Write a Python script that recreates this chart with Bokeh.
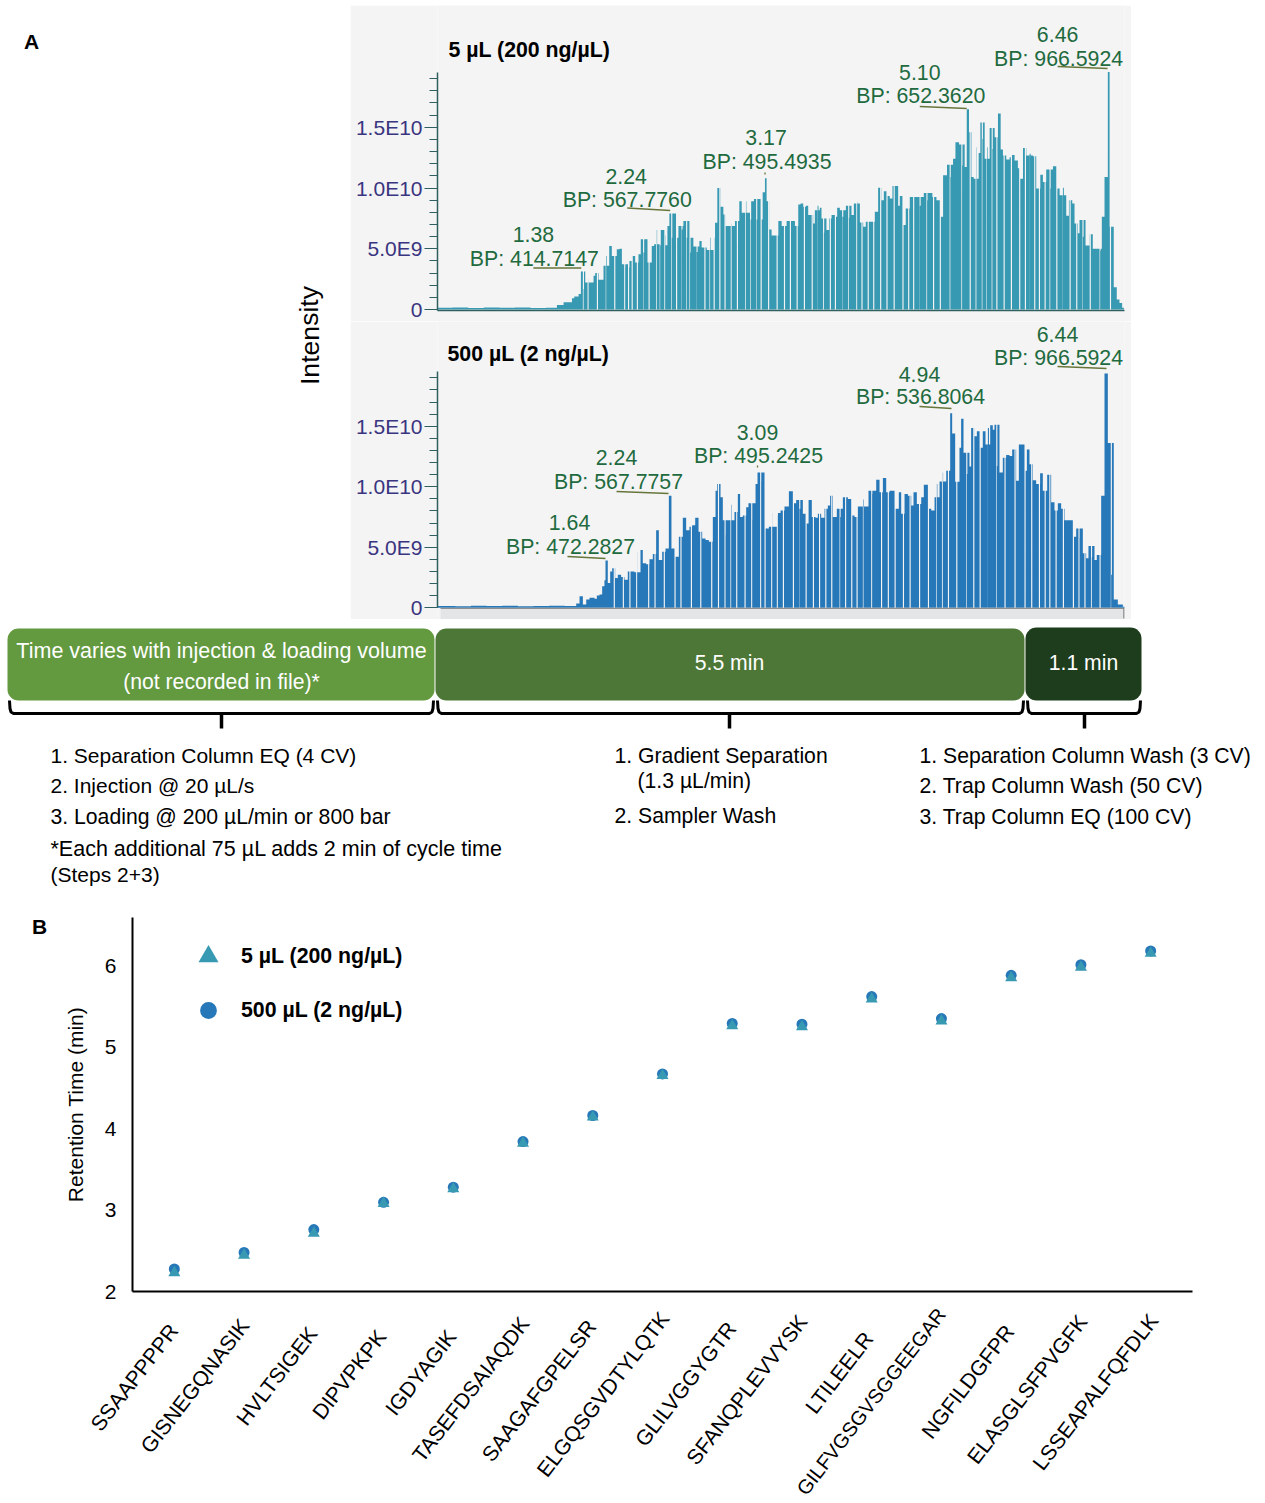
from bokeh.plotting import figure
from bokeh.layouts import row, column
from bokeh.models import (Range1d, FactorRange, FixedTicker, LinearAxis, Legend, LegendItem, Spacer, ColumnDataSource)
from bokeh.core.properties import value
from bokeh.embed import file_html
from bokeh.resources import INLINE

# ---------------- chromatogram data (retention time in min, intensity in 1E9) ----------------
rt_5ul = [0.00,0.15,0.30,0.45,0.60,0.75,0.90,1.05,1.155,1.219,1.267,1.30,1.322,1.364,1.386,1.412,1.428,1.46,1.508,1.524,1.556,1.604,1.63,1.659,1.684,1.732,1.758,1.781,1.813,1.854,1.886,1.909,1.941,1.963,1.989,2.028,2.069,2.092,2.117,2.15,2.198,2.22,2.239,2.262,2.326,2.358,2.374,2.406,2.438,2.47,2.502,2.528,2.55,2.599,2.631,2.679,2.701,2.733,2.759,2.782,2.839,2.871,2.913,2.936,2.977,3.022,3.054,3.08,3.138,3.16,3.176,3.202,3.224,3.289,3.321,3.369,3.417,3.449,3.481,
          3.503,3.529,3.555,3.577,3.625,3.641,3.667,3.689,3.705,3.728,3.753,3.779,3.802,3.834,3.856,3.882,3.907,3.94,3.969,3.994,4.017,4.049,4.075,4.107,4.132,4.161,4.18,4.219,4.251,4.283,4.306,4.331,4.363,4.389,4.411,4.444,4.46,4.485,4.517,4.556,4.627,4.652,4.691,4.723,4.774,4.813,4.845,4.877,4.915,4.947,4.973,4.996,5.031,5.06,5.085,5.105,5.127,5.15,5.172,5.198,5.22,5.236,5.256,5.278,5.30,5.326,5.352,5.374,5.406,5.432,5.454,5.486,5.518,5.541,5.566,5.598,5.621,5.647,5.679,5.711,5.743,5.775,5.814,5.839,5.871,5.91,5.936,5.968,6.0,6.032,6.064,6.09,6.122,6.144,6.176,6.192,6.224,6.25,6.288,6.32,6.391,6.407,6.433,6.465,6.482,6.497,6.522,6.551,6.577,6.603,6.62]
int_5ul = [0.14,0.16,0.13,0.17,0.14,0.16,0.13,0.15,0.38,0.60,0.60,0.93,1.06,1.28,3.13,1.69,2.23,2.51,2.78,3.0,2.45,3.6,4.41,5.23,4.41,4.96,5.01,3.73,3.46,4.0,4.41,3.87,4.55,5.78,4.69,3.87,5.23,5.37,6.54,5.29,6.10,6.87,7.90,5.91,6.87,6.59,7.28,5.91,4.69,5.18,4.74,5.64,5.10,4.90,5.91,7.14,10.0,8.45,7.82,6.87,7.08,7.28,8.91,7.96,8.91,7.41,9.10,7.41,9.65,10.8,8.91,6.59,6.10,7.28,6.87,7.28,7.28,6.87,8.64,
           8.72,8.45,8.53,7.77,7.08,8.17,8.53,8.37,7.49,6.32,6.54,7.49,7.77,7.63,8.37,8.17,7.63,8.53,7.55,7.77,8.72,8.86,7.17,6.81,7.22,8.53,7.22,8.04,10.03,8.99,9.73,9.35,9.13,10.16,9.13,8.53,9.35,6.95,8.31,9.26,9.26,8.53,9.59,8.99,9.26,8.99,7.63,11.04,11.91,10.90,12.40,13.76,13.57,11.85,11.72,16.49,14.58,10.90,10.76,13.35,12.89,15.40,14.03,12.40,13.35,14.93,13.22,14.17,16.13,13.16,12.67,12.34,12.53,12.72,12.26,11.63,10.76,13.30,12.67,12.81,12.62,9.95,11.09,10.49,11.53,9.95,11.80,9.95,9.40,10.03,7.71,8.99,8.72,7.08,6.27,7.36,5.99,5.26,6.19,4.99,4.85,7.63,10.90,19.54,6.81,6.81,1.83,0.82,0.54,0.14,0.0]
dips_5ul = [1.405,1.45,1.54,1.625,1.707,1.803,1.84,1.875,1.925,1.985,2.038,2.11,2.145,2.19,2.256,2.303,2.355,2.40,2.432,2.50,2.576,2.625,2.665,2.72,2.77,2.83,2.889,2.97,3.016,3.075,3.118,3.19,3.272,3.343,3.40,3.465,3.535,3.61,3.665,3.72,3.785,3.834,3.904,3.962,4.04,4.09,4.15,4.203,4.27,4.331,4.40,4.485,4.54,4.588,4.65,4.716,4.78,4.845,4.94,5.053,5.133,5.19,5.25,5.295,5.345,5.39,5.46,5.53,5.61,5.665,5.71,5.755,5.80,5.855,5.903,5.968,6.03,6.096,6.16,6.22,6.29,6.385,6.485]

rt_500ul = [0.03,0.2,0.35,0.5,0.65,0.8,0.95,1.1,1.25,1.36,1.392,1.424,1.456,1.488,1.536,1.558,1.584,1.609,1.631,1.641,1.663,1.686,1.705,1.734,1.759,1.791,1.823,1.855,1.887,1.919,1.945,1.977,1.999,2.031,2.063,2.095,2.127,2.153,2.185,2.217,2.249,2.274,2.303,2.345,2.383,2.415,2.447,2.473,2.502,2.534,2.569,2.601,2.633,2.671,2.697,2.713,2.745,2.767,2.793,2.815,2.847,2.879,2.911,2.933,2.959,2.991,3.013,3.049,3.081,3.10,3.135,3.167,3.209,3.241,3.295,3.321,3.359,3.401,3.439,3.471,
            3.503,3.535,3.561,3.59,3.621,3.656,3.679,3.711,3.743,3.775,3.797,3.823,3.861,3.893,3.919,3.967,3.999,4.031,4.063,4.117,4.136,4.165,4.2,4.239,4.271,4.303,4.335,4.367,4.415,4.456,4.479,4.511,4.543,4.575,4.597,4.629,4.671,4.696,4.735,4.767,4.799,4.821,4.847,4.878,4.911,4.949,4.968,4.997,5.038,5.054,5.077,5.109,5.134,5.15,5.182,5.205,5.231,5.262,5.288,5.311,5.333,5.358,5.374,5.397,5.422,5.454,5.486,5.518,5.544,5.582,5.608,5.64,5.662,5.685,5.71,5.742,5.774,5.812,5.838,5.88,5.918,5.95,5.982,6.014,6.046,6.094,6.126,6.158,6.19,6.222,6.254,6.276,6.308,6.334,6.356,6.398,6.43,6.462,6.494,6.519,6.558,6.606,6.63]
int_500ul = [0.15,0.13,0.17,0.14,0.16,0.13,0.15,0.16,0.14,0.35,0.95,0.27,0.68,0.82,0.74,1.01,1.09,1.77,2.26,3.90,2.04,3.0,3.27,2.45,2.72,2.53,2.32,3.0,3.0,2.92,4.63,4.77,3.68,3.60,4.01,4.44,6.40,3.95,4.63,4.90,9.26,4.90,4.22,5.86,7.44,6.40,6.68,6.81,7.44,6.27,5.72,5.59,5.45,7.49,9.67,10.22,9.13,7.22,5.99,7.22,8.50,7.90,9.40,7.49,7.63,8.31,8.64,7.22,10.22,11.17,10.41,6.54,6.68,7.82,7.63,8.04,8.37,9.62,8.64,8.91,
             8.17,7.77,6.95,8.91,7.49,7.44,7.77,7.44,8.17,8.45,9.26,7.49,8.17,7.49,9.13,8.99,7.63,7.49,8.37,8.94,8.37,9.67,9.40,10.57,9.54,10.71,9.54,9.67,8.17,9.54,7.77,9.40,9.26,8.45,9.54,8.58,9.13,10.16,8.17,8.04,9.13,10.22,10.44,11.17,11.31,16.08,14.39,10.41,13.22,15.61,12.81,11.04,11.66,14.85,14.17,14.58,13.22,14.58,13.49,14.85,15.07,14.71,15.12,11.72,11.17,12.40,12.62,12.53,13.08,10.49,13.49,13.49,11.31,13.08,11.85,10.54,10.22,11.12,9.67,10.98,8.72,8.04,8.64,8.17,7.22,7.22,5.86,6.54,5.80,4.50,4.09,5.10,4.17,3.95,4.36,9.26,19.35,13.62,2.72,0.68,0.27,0.08,0.0]
dips_500ul = [1.72,1.807,1.87,1.935,2.05,2.111,2.20,2.303,2.36,2.46,2.55,2.655,2.72,2.783,2.84,2.895,2.975,3.039,3.125,3.167,3.231,3.285,3.343,3.439,3.50,3.561,3.631,3.69,3.75,3.807,3.887,3.94,3.999,4.05,4.111,4.191,4.285,4.35,4.415,4.495,4.559,4.65,4.735,4.815,4.87,4.927,5.007,5.103,5.17,5.231,5.31,5.391,5.47,5.566,5.662,5.726,5.80,5.855,5.90,5.96,6.03,6.126,6.18,6.237,6.30,6.382,6.49]

major_ticks = [0, 5, 10, 15]
minor_ticks = list(range(0, 20))
tick_labels = {0: "0", 5: "5.0E9", 10: "1.0E10", 15: "1.5E10"}

# ---------------- panel B data ----------------
peptides = ["SSAAPPPPR","GISNEGQNASIK","HVLTSIGEK","DIPVPKPK","IGDYAGIK","TASEFDSAIAQDK","SAAGAFGPELSR","ELGQSGVDTYLQTK","GLILVGGYGTR","SFANQPLEVVYSK","LTILEELR","GILFVGSGVSGGEEGAR","NGFILDGFPR","ELASGLSFPVGFK","LSSEAPALFQFDLK"]
rt_tri = [2.23,2.445,2.715,3.08,3.26,3.82,4.14,4.65,5.26,5.25,5.59,5.32,5.85,5.98,6.15]
rt_cir = [2.276,2.48,2.76,3.095,3.28,3.84,4.16,4.67,5.29,5.28,5.62,5.35,5.88,6.01,6.18]
pep_label_end_px = [174,245,313,382,452,525,592,665,732,803,869,942,1010,1083,1154]
pep_label_end_py = [1327,1322,1330,1333,1333,1320,1323,1315,1325,1318,1335,1311,1328,1318,1317]
pep_label_size = ["21.2px"] * 11 + ["20px"] + ["21.2px"] * 3

FONT = value("Liberation Sans")
TEAL, BLUE = "#3899b3", "#2778b8"
GREEN, OLIVE, NAVY, TICK = "#1f6b3f", "#66763a", "#3a3580", "#2f5f5f"
PANEL = "#f4f4f4"
SLIT = 0.011


def trace(rt, vals, dips):
    """Merge the read peak tops with the read zero-intensity slits, as a step trace."""
    pts, last = [], 0.0
    merged = [(a, b) for a, b in zip(rt, vals)] + [(d, None) for d in dips]
    for tm, v in sorted(merged, key=lambda q: q[0]):
        if v is None:
            pts += [(tm, 0.0), (tm + SLIT, last)]
        else:
            pts.append((tm, v))
            last = v
    pts.sort(key=lambda q: q[0])
    return [q[0] for q in pts], [q[1] for q in pts]


def chrom_fig(height, border_b, y0_px, top_px, scale, x0_px, ppm, frame_left, frame_bottom, rt, vals, dips, color, title, title_py, callouts, leaders):
    """Figure spanning its whole panel; the data scale is fixed by the read pixel calibration."""
    px2t = lambda px: (px - x0_px) / ppm
    py2v = lambda py: (y0_px - py) / scale
    p = figure(width=781, height=height, output_backend="svg", toolbar_location=None,
               x_range=Range1d(px2t(frame_left), px2t(1125)),
               y_range=Range1d(py2v(frame_bottom), py2v(top_px)),
               x_axis_location=None, y_axis_location=None,
               min_border_left=frame_left - 351, min_border_right=1132 - 1125,
               min_border_top=0, min_border_bottom=border_b,
               background_fill_color=PANEL, border_fill_color=PANEL, outline_line_color=None)
    p.grid.visible = False
    ax = LinearAxis(ticker=FixedTicker(ticks=major_ticks, minor_ticks=minor_ticks),
                    major_label_overrides=tick_labels, bounds=(py2v(frame_bottom if border_b else y0_px), 19.5),
                    major_label_text_font="Liberation Sans", major_label_text_font_size="21px",
                    major_label_text_color=NAVY, major_label_standoff=2,
                    major_tick_in=0, major_tick_out=13, minor_tick_in=0, minor_tick_out=8,
                    axis_line_color=TICK, axis_line_width=1.5, major_tick_line_color=TICK, minor_tick_line_color=TICK)
    p.add_layout(ax, "left")
    xs, ys = trace(rt, vals, dips)
    p.varea_step(x=xs, y1=[0.0] * len(xs), y2=ys, step_mode="after", fill_color=color)
    for (px, py, s) in callouts:
        p.text([px2t(px)], [py2v(py)], text=[s], text_font=FONT, text_font_size="21.3px", text_color=GREEN,
               text_align="center", text_baseline="middle")
    for (x1, y1, x2, y2) in leaders:
        p.segment([px2t(x1)], [py2v(y1)], [px2t(x2)], [py2v(y2)], line_color=OLIVE, line_width=1.3)
    p.text([px2t(448)], [py2v(title_py)], text=[title], text_font=FONT, text_font_size="21.3px", text_font_style="bold",
           text_color="#000000", text_align="left", text_baseline="middle")
    return p, px2t, py2v


p1, t1, v1 = chrom_fig(316, 11, 310.0, 6, 12.15, 436.6, 103.9, 437, 311, rt_5ul, int_5ul, dips_5ul, TEAL,
    "5 µL (200 ng/µL)", 50,
    [(533,235,"1.38"),(534,259,"BP: 414.7147"),(626,177,"2.24"),(627,200,"BP: 567.7760"),(766,138,"3.17"),(767,162,"BP: 495.4935"),
     (920,73,"5.10"),(921,96,"BP: 652.3620"),(1058,35,"6.46"),(1059,59,"BP: 966.5924")],
    [(533,268.5,581,268.5),(627,208.5,670,211),(765,173,765,175),(920,107,967,109),(1058,67,1108,69)])
p1.add_layout(LinearAxis(ticker=FixedTicker(ticks=[]), axis_line_color=TICK, axis_line_width=1.5, major_tick_line_color=None), "below")

p2, t2, v2 = chrom_fig(298, 0, 608.2, 322, 12.1, 435.0, 104.2, 438, 620, rt_500ul, int_500ul, dips_500ul, BLUE,
    "500 µL (2 ng/µL)", 354,
    [(570,523,"1.64"),(571,547,"BP: 472.2827"),(617,458,"2.24"),(619,482,"BP: 567.7757"),(758,433,"3.09"),(759,456,"BP: 495.2425"),
     (920,375,"4.94"),(921,397,"BP: 536.8064"),(1058,335,"6.44"),(1059,358,"BP: 966.5924")],
    [(568,557,606,559),(617,492,669,494),(758,466,758,468),(920,407,952,409),(1058,367,1107,369)])
p2.quad(left=[t2(441)], right=[t2(1125)], bottom=[v2(620)], top=[v2(608.8)], fill_color="#e4e5e7", line_color=None)
p2.segment([t2(441)], [v2(608.8)], [t2(1125)], [v2(608.8)], line_color="#8d9092", line_width=1.2)
p2.segment([t2(1124.5)], [v2(609)], [t2(1124.5)], [v2(619)], line_color="#555555", line_width=1)

# ---------------- left strip of the top row ----------------
left = figure(width=350, height=614, output_backend="svg", toolbar_location=None, x_range=Range1d(1, 351),
              y_range=Range1d(620, 6), x_axis_location=None, y_axis_location=None, min_border=0, outline_line_color=None)
left.grid.visible = False
left.text([32], [42], text=["A"], text_font=FONT, text_font_size="21px", text_font_style="bold",
          text_align="center", text_baseline="middle", text_color="#000000")
left.text([310], [336], text=["Intensity"], angle=1.5708, text_font=FONT, text_font_size="26.6px",
          text_align="center", text_baseline="middle", text_color="#000000")

# ---------------- workflow band ----------------
band = figure(width=1264, height=275, output_backend="svg", toolbar_location=None, x_range=Range1d(1, 1265),
              y_range=Range1d(895, 620), x_axis_location=None, y_axis_location=None, min_border=0, outline_line_color=None)
band.grid.visible = False
band.quad(left=[8, 436, 1026], right=[435, 1025, 1142], top=[629, 629, 628], bottom=[701, 701, 701],
          fill_color=["#63993f", "#4d7736", "#1d3d1c"], line_color=None, border_radius=11)


def t(x, y, s, color="#000000", align="left", size="21.2px"):
    band.text([x], [y], text=[s], text_font=FONT, text_font_size=size, text_color=color,
              text_align=align, text_baseline="middle")


t(222, 651, "Time varies with injection & loading volume", "#ffffff", "center", "21.5px")
t(222, 682, "(not recorded in file)*", "#ffffff", "center")
t(730, 663, "5.5 min", "#ffffff", "center")
t(1084, 663, "1.1 min", "#ffffff", "center")
for x0, xm, x1 in [(10, 222, 434), (438, 730, 1024), (1028, 1085, 1141)]:
    band.line([x0, x0 + 0.5, x0 + 1.5, x0 + 4, x1 - 4, x1 - 1.5, x1 - 0.5, x1],
              [701, 709, 712.5, 714, 714, 712.5, 709, 701], line_color="#000000", line_width=3)
    band.segment([xm], [714], [xm], [729], line_color="#000000", line_width=3.5)
for y, s, sz in [(756, "1. Separation Column EQ (4 CV)", "21px"), (786, "2. Injection @ 20 µL/s", "21px"), (817, "3. Loading @ 200 µL/min or 800 bar", "21.2px"),
                 (849, "*Each additional 75 µL adds 2 min of cycle time", "21.5px"), (875, "(Steps 2+3)", "21px")]:
    t(51, y, s, size=sz)
for x, y, s in [(615, 756, "1. Gradient Separation"), (638, 781, "(1.3 µL/min)"), (615, 816, "2. Sampler Wash")]:
    t(x, y, s)
for y, s in [(756, "1. Separation Column Wash (3 CV)"), (786, "2. Trap Column Wash (50 CV)"), (817, "3. Trap Column EQ (100 CV)")]:
    t(920, y, s)

# ---------------- panel B ----------------
letter = figure(width=54, height=409, output_backend="svg", toolbar_location=None, x_range=Range1d(1, 55),
                y_range=Range1d(1292, 918), x_axis_location=None, y_axis_location=None, min_border_left=0, min_border_right=0,
                min_border_top=23, min_border_bottom=12, outline_line_color=None)
letter.grid.visible = False
letter.text([40], [927], text=["B"], text_font=FONT, text_font_size="21px", text_font_style="bold",
            text_align="center", text_baseline="middle", text_color="#000000")

b = figure(width=1210, height=409, output_backend="svg", toolbar_location=None,
           x_range=FactorRange(factors=peptides, range_padding=0.1, range_padding_units="absolute"),
           y_range=Range1d(2, 6.59), x_axis_location=None, min_border_left=78, min_border_right=72, min_border_top=23, min_border_bottom=12,
           outline_line_color=None)
b.grid.visible = False
b.add_layout(LinearAxis(ticker=FixedTicker(ticks=[]), axis_line_color="#000000", axis_line_width=2, major_tick_line_color=None), "below")
ax = b.yaxis[0]
ax.axis_line_color = "#000000"
ax.axis_line_width = 2
ax.major_tick_line_color = None
ax.minor_tick_line_color = None
ax.major_label_text_font = "Liberation Sans"
ax.major_label_text_font_size = "21px"
ax.major_label_text_color = "#000000"
ax.ticker = FixedTicker(ticks=[2, 3, 4, 5, 6])
ax.major_label_standoff = 10
ax.axis_label = "Retention Time (min)"
ax.axis_label_text_font = "Liberation Sans"
ax.axis_label_text_font_size = "21px"
ax.axis_label_text_font_style = "normal"
ax.axis_label_text_color = "#000000"
ax.axis_label_standoff = 15
rc = b.scatter(peptides, rt_cir, marker="circle", size=11, fill_color=BLUE, line_color=None)
rtri = b.scatter(peptides, rt_tri, marker="triangle", size=12, fill_color=TEAL, line_color=None)
for r, lab, gh, loc, standoff in [(rtri, "5 µL (200 ng/µL)", 50, (51, 310), 8), (rc, "500 µL (2 ng/µL)", 42, (55, 260), 12)]:
    leg = Legend(items=[LegendItem(label=lab, renderers=[r])], location=loc, glyph_width=gh, glyph_height=gh,
                 label_standoff=standoff, padding=0, margin=0, border_line_color=None, background_fill_alpha=0,
                 label_text_font="Liberation Sans", label_text_font_size="21.3px", label_text_font_style="bold",
                 label_text_color="#000000")
    b.add_layout(leg, "center")

# peptide names: each reference label has its own end point, so they sit in a strip under the axis
names = figure(width=1264, height=199, output_backend="svg", toolbar_location=None, x_range=Range1d(1, 1265),
               y_range=Range1d(1503, 1304), x_axis_location=None, y_axis_location=None, min_border=0, outline_line_color=None)
names.grid.visible = False
name_src = ColumnDataSource(dict(x=pep_label_end_px, y=pep_label_end_py, name=peptides, size=pep_label_size))
names.text(x="x", y="y", text="name", source=name_src, angle=0.913, text_font=FONT, text_font_size="size",
           text_color="#000000", text_align="right", text_baseline="middle")

page = column(Spacer(height=5), row(left, column(p1, p2, spacing=0), spacing=0), row(band),
              row(letter, b, spacing=0), row(names), spacing=0)
open("out.html", "w").write(file_html(page, INLINE))
